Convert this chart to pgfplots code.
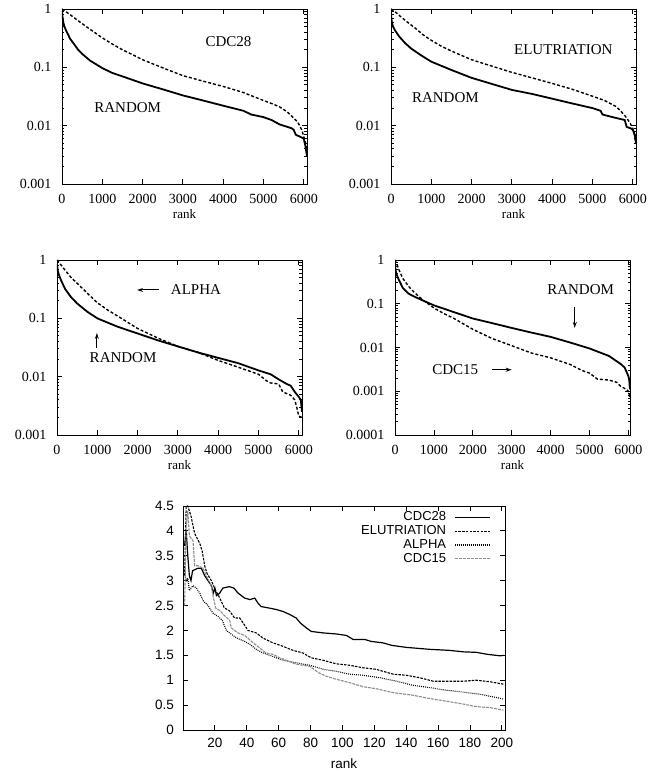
\documentclass[border=0pt]{standalone}
\usepackage{fontspec}
\setmainfont{Liberation Serif}
\newfontfamily\sansf{Liberation Sans}
\usepackage{pgfplots}
\pgfplotsset{compat=1.18}
\usetikzlibrary{arrows.meta}

\tikzset{
  rnd/.style={black, line width=1.8pt},
  dsh/.style={black, line width=1.4pt, dash pattern=on 3pt off 2pt},
  lab/.style={font=\fontsize{15}{17}\selectfont},
  arr/.style={line width=1pt, -{Stealth[length=6pt,width=4pt]}},
}

\begin{document}
\begin{tikzpicture}
\useasboundingbox (0pt,0pt) rectangle (657pt,771pt);

% ---------- Panel 1: CDC28 ----------
\begin{axis}[at={(62pt,587pt)}, anchor=south west,
    scale only axis, width=245pt, height=175pt,
    ymode=log, xmin=0, xmax=6080, ymin=0.001, ymax=1,
    xtick={0,1000,2000,3000,4000,5000,6000},
    xticklabels={0,1000,2000,3000,4000,5000,6000},
    ytick={0.001,0.01,0.1,1},
    yticklabels={0.001,0.01,0.1,1},
    tick label style={font=\fontsize{14}{16}\selectfont},
    yticklabel style={xshift=-7pt},
    xticklabel style={yshift=-6.5pt},
    xlabel={rank},
    xlabel style={at={(axis description cs:0.5,0)}, anchor=north, yshift=-22pt, font=\fontsize{13}{15}\selectfont},
    axis line style={line width=0.9pt},
    major tick style={black, line width=0.8pt},
    minor tick style={black, line width=0.8pt},
    major tick length=5pt, minor tick length=2.5pt]
\addplot[dsh] coordinates {
(0,1.0) (100,0.9) (200,0.8) (400,0.63) (600,0.5) (800,0.4) (1000,0.32)
(1250,0.25) (1500,0.2) (1750,0.165) (2000,0.135) (2500,0.098) (3000,0.072)
(3500,0.058) (4000,0.047) (4500,0.037) (5000,0.027) (5200,0.024) (5400,0.021)
(5600,0.017) (5750,0.0135) (5850,0.0115) (5950,0.0085) (6000,0.0065)
(6050,0.005) (6080,0.004)};
\addplot[rnd] coordinates {
(0,0.95) (10,0.75) (30,0.6) (60,0.5) (100,0.43) (200,0.31) (300,0.25)
(400,0.2) (500,0.17) (700,0.13) (1000,0.097) (1250,0.08) (1500,0.07)
(2000,0.053) (2500,0.042) (3000,0.033) (3500,0.027) (4000,0.022)
(4500,0.018) (4700,0.0155) (5000,0.014) (5200,0.0125) (5400,0.0105)
(5600,0.0095) (5700,0.009) (5750,0.0085) (5800,0.007) (5900,0.0065)
(6000,0.006) (6040,0.0045) (6080,0.003)};
\node[lab] at (axis cs:4130,0.275) {CDC28};
\node[lab] at (axis cs:1630,0.0203) {RANDOM};
\end{axis}

% ---------- Panel 2: ELUTRIATION ----------
\begin{axis}[at={(391pt,587pt)}, anchor=south west,
    scale only axis, width=245pt, height=175pt,
    ymode=log, xmin=0, xmax=6080, ymin=0.001, ymax=1,
    xtick={0,1000,2000,3000,4000,5000,6000},
    xticklabels={0,1000,2000,3000,4000,5000,6000},
    ytick={0.001,0.01,0.1,1},
    yticklabels={0.001,0.01,0.1,1},
    tick label style={font=\fontsize{14}{16}\selectfont},
    yticklabel style={xshift=-7pt},
    xticklabel style={yshift=-6.5pt},
    xlabel={rank},
    xlabel style={at={(axis description cs:0.5,0)}, anchor=north, yshift=-22pt, font=\fontsize{13}{15}\selectfont},
    axis line style={line width=0.9pt},
    major tick style={black, line width=0.8pt},
    minor tick style={black, line width=0.8pt},
    major tick length=5pt, minor tick length=2.5pt]
\addplot[dsh] coordinates {
(0,1.0) (100,0.9) (200,0.78) (400,0.6) (600,0.47) (800,0.36) (1000,0.29)
(1250,0.23) (1500,0.19) (2000,0.135) (2500,0.105) (3000,0.082) (3500,0.066)
(4000,0.053) (4500,0.042) (5000,0.032) (5300,0.027) (5600,0.021)
(5800,0.015) (5900,0.012) (5950,0.0105) (6000,0.009) (6040,0.007) (6080,0.005)};
\addplot[rnd] coordinates {
(0,0.8) (20,0.6) (50,0.5) (100,0.43) (200,0.34) (350,0.26) (500,0.21)
(750,0.16) (1000,0.125) (1500,0.09) (2000,0.066) (2500,0.052) (3000,0.041)
(3500,0.035) (4000,0.029) (4500,0.024) (5000,0.02) (5200,0.018)
(5250,0.0155) (5500,0.014) (5800,0.0125) (5850,0.0095) (5950,0.009)
(6000,0.0085) (6050,0.007) (6080,0.005)};
\node[lab] at (axis cs:4275,0.2) {ELUTRIATION};
\node[lab] at (axis cs:1350,0.030) {RANDOM};
\end{axis}

% ---------- Panel 3: ALPHA ----------
\begin{axis}[at={(57pt,336pt)}, anchor=south west,
    scale only axis, width=245pt, height=175pt,
    ymode=log, xmin=0, xmax=6080, ymin=0.001, ymax=1,
    xtick={0,1000,2000,3000,4000,5000,6000},
    xticklabels={0,1000,2000,3000,4000,5000,6000},
    ytick={0.001,0.01,0.1,1},
    yticklabels={0.001,0.01,0.1,1},
    tick label style={font=\fontsize{14}{16}\selectfont},
    yticklabel style={xshift=-7pt},
    xticklabel style={yshift=-6.5pt},
    xlabel={rank},
    xlabel style={at={(axis description cs:0.5,0)}, anchor=north, yshift=-22pt, font=\fontsize{13}{15}\selectfont},
    axis line style={line width=0.9pt},
    major tick style={black, line width=0.8pt},
    minor tick style={black, line width=0.8pt},
    major tick length=5pt, minor tick length=2.5pt]
\addplot[dsh] coordinates {
(0,1.0) (100,0.82) (200,0.67) (350,0.5) (500,0.4) (750,0.27) (1000,0.185)
(1250,0.14) (1500,0.11) (2000,0.067) (2500,0.046) (3000,0.033) (3500,0.026)
(4000,0.019) (4500,0.0145) (5000,0.011) (5200,0.0085) (5300,0.0078)
(5500,0.0075) (5600,0.0055) (5800,0.0048) (5900,0.004) (5950,0.003)
(6000,0.0021) (6080,0.002)};
\addplot[rnd] coordinates {
(0,0.85) (20,0.65) (50,0.55) (100,0.45) (200,0.32) (350,0.23) (500,0.18)
(750,0.13) (1000,0.1) (1500,0.072) (2000,0.055) (2500,0.042) (3000,0.033)
(3500,0.026) (4000,0.021) (4500,0.017) (5000,0.0128) (5300,0.011)
(5500,0.009) (5700,0.0075) (5800,0.007) (5900,0.0055) (6000,0.0045)
(6050,0.004) (6080,0.0025)};
\node[lab, anchor=west] at (axis cs:2740,0.306) {ALPHA};
\draw[arr] (axis cs:2520,0.306) -- (axis cs:1990,0.306);
\node[lab] at (axis cs:1640,0.021) {RANDOM};
\draw[arr] (axis cs:990,0.031) -- (axis cs:990,0.056);
\end{axis}

% ---------- Panel 4: CDC15 ----------
\begin{axis}[at={(395pt,336pt)}, anchor=south west,
    scale only axis, width=235pt, height=175pt,
    ymode=log, xmin=0, xmax=6040, ymin=0.0001, ymax=1,
    xtick={0,1000,2000,3000,4000,5000,6000},
    xticklabels={0,1000,2000,3000,4000,5000,6000},
    ytick={0.0001,0.001,0.01,0.1,1},
    yticklabels={0.0001,0.001,0.01,0.1,1},
    tick label style={font=\fontsize{14}{16}\selectfont},
    yticklabel style={xshift=-7pt},
    xticklabel style={yshift=-6.5pt},
    xlabel={rank},
    xlabel style={at={(axis description cs:0.5,0)}, anchor=north, yshift=-22pt, font=\fontsize{13}{15}\selectfont},
    axis line style={line width=0.9pt},
    major tick style={black, line width=0.8pt},
    minor tick style={black, line width=0.8pt},
    major tick length=5pt, minor tick length=2.5pt]
\addplot[dsh] coordinates {
(0,1.0) (50,0.8) (100,0.6) (200,0.38) (350,0.25) (500,0.18) (700,0.125)
(1000,0.08) (1250,0.06) (1500,0.047) (2000,0.026) (2500,0.016) (3000,0.011)
(3500,0.0075) (4000,0.0058) (4500,0.0041) (4800,0.003) (5000,0.0026)
(5200,0.0019) (5500,0.0018) (5700,0.0016) (5800,0.0013) (5950,0.0011)
(6000,0.001) (6040,0.0007)};
\addplot[rnd] coordinates {
(0,0.75) (20,0.55) (50,0.45) (100,0.35) (200,0.23) (350,0.17) (500,0.145)
(750,0.115) (1000,0.092) (1500,0.065) (2000,0.046) (2500,0.036) (3000,0.028)
(3500,0.022) (4000,0.0175) (4500,0.013) (5000,0.0095) (5500,0.0064)
(5800,0.0042) (5900,0.0035) (5950,0.0028) (6000,0.0022) (6020,0.0018)
(6040,0.0011)};
\node[lab] at (axis cs:4770,0.206) {RANDOM};
\draw[arr] (axis cs:4620,0.085) -- (axis cs:4620,0.028);
\node[lab] at (axis cs:1550,0.0031) {CDC15};
\draw[arr] (axis cs:2490,0.0031) -- (axis cs:3000,0.0031);
\end{axis}

% ---------- Panel 5: top 200 ranks ----------
\begin{axis}[at={(183pt,41pt)}, anchor=south west,
  scale only axis, width=322pt, height=224pt,
  xmin=0, xmax=202, ymin=0, ymax=4.5,
  xtick={20,40,...,200}, ytick={0,0.5,...,4.5},
  /pgf/number format/assume math mode=true,
  tick label style={font=\sansf\fontsize{13.5}{15}\selectfont},
  yticklabel style={xshift=-5.5pt},
  xticklabel style={yshift=-4.5pt},
  xlabel={rank},
  xlabel style={at={(axis description cs:0.5,0)}, anchor=north, yshift=-25pt, font=\sansf\fontsize{13.5}{15}\selectfont},
  axis line style={line width=0.9pt},
  major tick style={black, line width=0.8pt},
  major tick length=5pt,
  legend plot pos=right,
  legend cell align=right,
  legend image code/.code={\draw[#1] (0pt,0pt) -- (35pt,0pt);},
  legend style={draw=none, fill=none, inner sep=0pt,
    at={(rel axis cs:0.955,0.982)}, anchor=north east,
    font=\sansf\fontsize{13}{15}\selectfont,
    nodes={text height=9.3pt, text depth=2pt, inner ysep=1.3pt, inner xsep=2pt},
    /tikz/every odd column/.append style={column sep=6pt}},
]
\addplot[black, line width=1.2pt] coordinates {
(1,3.7) (2,4.0) (3,3.5) (4,3.1) (5,3.0) (6,3.2) (9.4,3.25) (11.5,3.25)
(13.6,3.1) (15.7,3.0) (17.8,2.9) (19,2.75) (20,2.85) (21,2.7) (23,2.75)
(25,2.85) (29,2.88) (32,2.85) (34.5,2.75) (38.7,2.65) (42,2.62) (45,2.65)
(47,2.55) (49,2.48) (54,2.45) (58.6,2.42) (62.8,2.38) (67,2.32) (71,2.25)
(73.6,2.15) (77.4,2.05) (80.5,1.98) (88,1.95) (96,1.93) (102.5,1.9)
(106.7,1.82) (114,1.82) (118,1.78) (125.5,1.75) (131,1.7) (140,1.66)
(155,1.62) (167,1.6) (176,1.57) (184,1.56) (191,1.52) (199,1.49) (201,1.5)};
\addlegendentry{CDC28}
\addplot[black, line width=1.1pt, dash pattern=on 2.5pt off 1.2pt] coordinates {
(1,3.1) (2,4.5) (3,4.5) (5,4.3) (7.3,3.95) (10.5,3.75) (12,3.6) (13.6,3.3)
(15,3.15) (17.8,3.0) (20.5,2.8) (22,2.72) (26,2.45) (29,2.4) (32.4,2.25)
(35.6,2.25) (37.7,2.15) (40.8,2.0) (46,1.95) (50,1.85) (56.5,1.75)
(62.8,1.68) (69,1.6) (75,1.55) (80.5,1.45) (88,1.4) (96,1.33) (104.6,1.3)
(113,1.25) (121,1.22) (132,1.12) (140,1.1) (148.5,1.05) (157,0.98)
(167,0.98) (176,0.98) (184,1.0) (192.5,0.97) (201,0.92)};
\addlegendentry{ELUTRIATION}
\addplot[black, line width=1.1pt, dash pattern=on 0.9pt off 1.1pt] coordinates {
(1,3.2) (2,3.0) (3,3.05) (4,2.8) (5,2.85) (6.3,2.9) (8.4,2.85) (10.5,2.75)
(12.6,2.6) (15.7,2.5) (18.8,2.35) (22,2.28) (24.7,2.2) (27.2,2.0) (29.3,1.95)
(33.5,1.85) (38.7,1.78) (42,1.72) (46,1.62) (50,1.55) (54.4,1.5) (58.6,1.45)
(62.8,1.4) (71,1.35) (79.5,1.3) (88,1.22) (96,1.18) (104.6,1.12) (113,1.1)
(123.4,1.05) (134,0.98) (144,0.9) (155,0.85) (165,0.8) (176,0.76) (186,0.72)
(197,0.65) (201,0.62)};
\addlegendentry{ALPHA}
\addplot[black!45, line width=1.1pt, dash pattern=on 3pt off 1pt] coordinates {
(1,2.5) (2,4.1) (3,4.4) (4,3.9) (6.3,3.8) (7.3,3.3) (9.4,3.3) (12.6,3.25)
(14.6,3.1) (17.8,2.9) (18.8,2.7) (20.5,2.45) (23,2.4) (26,2.3) (29.3,2.2)
(30.3,2.05) (34.5,1.95) (38.7,1.9) (43,1.78) (48,1.65) (52,1.55) (56.5,1.52)
(60.7,1.45) (65,1.4) (71,1.32) (79.5,1.28) (85,1.15) (90,1.08) (96,1.02)
(104.6,0.95) (113,0.87) (121,0.83) (132,0.75) (144,0.7) (155,0.63)
(165,0.58) (176,0.52) (184,0.47) (192.5,0.45) (201,0.4)};
\addlegendentry{CDC15}
\end{axis}
\end{tikzpicture}
\end{document}
